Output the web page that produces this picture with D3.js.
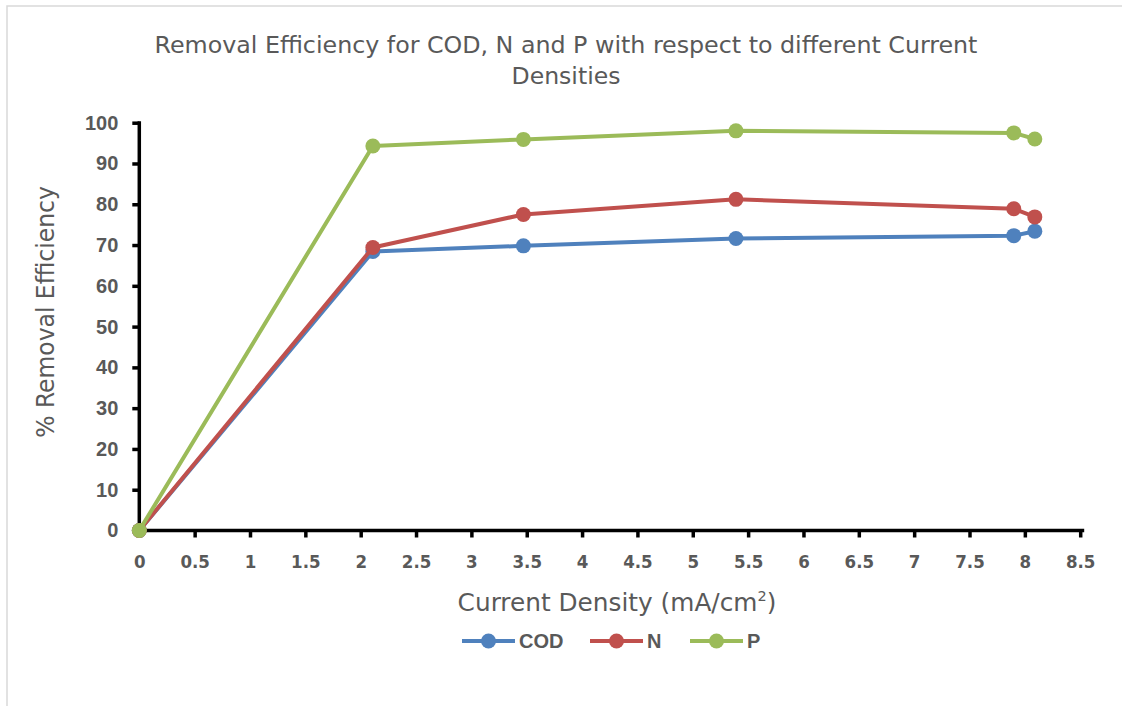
<!DOCTYPE html>
<html>
<head>
<meta charset="utf-8">
<script src="https://cdn.jsdelivr.net/npm/d3@7"></script>
<style>
  html, body { margin: 0; padding: 0; background: #fff; }
  svg { display: block; }
</style>
</head>
<body>
<svg id="chart" width="1122" height="706"></svg>
<script>
// Current density (mA/cm²) at each measurement
const currentDensity = [0, 2.11, 3.47, 5.39, 7.9, 8.09];
// % removal efficiency per parameter
const codValues = [0, 68.4, 69.8, 71.6, 72.3, 73.4];
const nValues   = [0, 69.4, 77.5, 81.2, 78.9, 76.9];
const pValues   = [0, 94.3, 95.9, 98.0, 97.5, 96.0];
const seriesNames = ["COD", "N", "P"];
const seriesColors = ["#4F81BD", "#C0504D", "#9BBB59"];
const xTicks = [0, 0.5, 1, 1.5, 2, 2.5, 3, 3.5, 4, 4.5, 5, 5.5, 6, 6.5, 7, 7.5, 8, 8.5];
const yTicks = [0, 10, 20, 30, 40, 50, 60, 70, 80, 90, 100];

const series = [codValues, nValues, pValues].map((vals, i) => ({
  name: seriesNames[i],
  color: seriesColors[i],
  points: vals.map((v, j) => ({ x: currentDensity[j], y: v }))
}));

const svg = d3.select("#chart");
const condensed = "'DejaVu Sans Condensed', 'DejaVu Sans', sans-serif";
const boldFont = "'Liberation Sans', Arial, sans-serif";
const textGray = "#595959";

// stretch/squeeze a text element horizontally about its centre to a given width
function fitWidth(sel, width) {
  const bb = sel.node().getBBox();
  const cx = bb.x + bb.width / 2;
  const k = width / bb.width;
  const prev = sel.attr("transform") || "";
  sel.attr("transform", `translate(${cx},0) scale(${k},1) translate(${-cx},0) ${prev}`);
}

// chart-area frame
svg.append("rect")
  .attr("x", 7).attr("y", 6).attr("width", 1200).attr("height", 800)
  .attr("fill", "#fff").attr("stroke", "#d9d9d9").attr("stroke-width", 1.5);

const x = d3.scaleLinear().domain([0, 8.5]).range([139.3, 1080.2]);
const y = d3.scaleLinear().domain([0, 100]).range([530.5, 122.7]);

// title (two lines)
const titleLines = ["Removal Efficiency for COD, N and P with respect to different Current", "Densities"];
const titleWidths = [823, 109];
titleLines.forEach((t, i) => {
  const el = svg.append("text")
    .attr("x", 566).attr("y", 53 + i * 31)
    .attr("text-anchor", "middle")
    .attr("fill", textGray)
    .style("font-family", condensed)
    .style("font-size", "23.5px")
    .text(t);
  fitWidth(el, titleWidths[i]);
});

// y axis
const yAxis = svg.append("g")
  .attr("transform", `translate(${x(0)},0)`)
  .call(d3.axisLeft(y).tickValues(yTicks).tickSize(7).tickPadding(14).tickFormat(d3.format("d")));
yAxis.select(".domain").attr("stroke", "#000").attr("stroke-width", 3.5)
  .attr("d", `M0,${y(100) - 1.5}V${y(0)}`);
yAxis.selectAll(".tick line").attr("stroke", "#000").attr("stroke-width", 3.5);
yAxis.selectAll(".tick text")
  .attr("fill", textGray)
  .style("font-family", boldFont)
  .style("font-weight", "bold")
  .style("font-size", "20px");

// x axis
const xAxis = svg.append("g")
  .attr("transform", `translate(0,${y(0)})`)
  .call(d3.axisBottom(x).tickValues(xTicks).tickSize(7).tickPadding(17).tickFormat(d => String(d)));
xAxis.select(".domain").attr("stroke", "#000").attr("stroke-width", 3.5)
  .attr("d", `M${x(0)},0H${x(8.5) + 4}`);
xAxis.selectAll(".tick line").attr("stroke", "#000").attr("stroke-width", 3.5);
xAxis.selectAll(".tick").filter(d => d === 0).select("line").remove();
xAxis.selectAll(".tick text")
  .attr("fill", textGray)
  .style("font-family", condensed)
  .style("font-weight", "bold")
  .style("font-size", "18.5px");

// axis titles
const xt = svg.append("text")
  .attr("x", 617).attr("y", 611)
  .attr("text-anchor", "middle")
  .attr("fill", textGray)
  .style("font-family", condensed)
  .style("font-size", "24px");
xt.append("tspan").text("Current Density (mA/cm");
xt.append("tspan").attr("dy", -10).style("font-size", "14px").text("2");
xt.append("tspan").attr("dy", 10).text(")");
fitWidth(xt, 319);

const yt = svg.append("text")
  .attr("x", 0).attr("y", 0)
  .attr("text-anchor", "middle")
  .attr("fill", textGray)
  .style("font-family", condensed)
  .style("font-size", "24px")
  .text("% Removal Efficiency");
fitWidth(yt, 252);
yt.attr("transform", `translate(54,312) rotate(-90) ${yt.attr("transform")}`);

// series lines and markers
const line = d3.line().x(d => x(d.x)).y(d => y(d.y));
series.forEach(s => {
  const g = svg.append("g");
  g.append("path")
    .datum(s.points)
    .attr("d", line)
    .attr("fill", "none")
    .attr("stroke", s.color)
    .attr("stroke-width", 4)
    .attr("stroke-linejoin", "round");
  g.selectAll("circle")
    .data(s.points)
    .join("circle")
    .attr("cx", d => x(d.x))
    .attr("cy", d => y(d.y))
    .attr("r", 7.5)
    .attr("fill", s.color);
});

// legend
const legendX = [462, 590, 690];
const legendY = 641;
series.forEach((s, i) => {
  const g = svg.append("g").attr("transform", `translate(${legendX[i]},${legendY})`);
  g.append("line").attr("x1", 0).attr("x2", 53).attr("y1", 0).attr("y2", 0)
    .attr("stroke", s.color).attr("stroke-width", 4);
  g.append("circle").attr("cx", 26.5).attr("cy", 0).attr("r", 7.5).attr("fill", s.color);
  g.append("text").attr("x", 57).attr("y", 7)
    .attr("fill", textGray)
    .style("font-family", boldFont)
    .style("font-weight", "bold")
    .style("font-size", "20px")
    .text(s.name);
});
</script>
</body>
</html>
